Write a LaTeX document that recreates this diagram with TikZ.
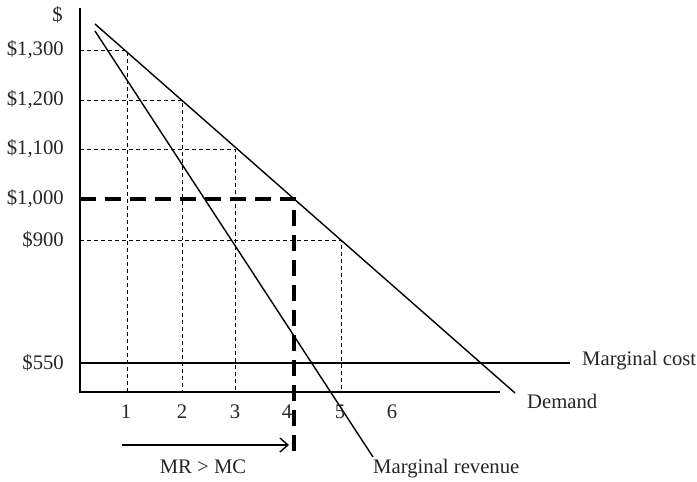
\documentclass[tikz,border=0pt]{standalone}
\usepackage{fontspec}
\setmainfont{Liberation Serif}
\usetikzlibrary{arrows.meta}
\begin{document}
\begin{tikzpicture}[x=1pt,y=-1pt,
  lbl/.style={inner sep=0pt,font=\fontsize{20.7}{24}\selectfont,text=black!85},
  curve/.style={line width=1.4pt},
  axisline/.style={line width=2pt},
  guide/.style={line width=0.9pt,dash pattern=on 4pt off 3pt},
  optimum/.style={line width=3.4pt,dash pattern=on 16pt off 9pt}]
\useasboundingbox (0,0) rectangle (697,482);
% axes
\coordinate (ytop) at (80,8);
\coordinate (orig) at (80,392);
\coordinate (xend) at (500,392);
\draw[axisline] (ytop) -- (orig) -- (xend);
% marginal cost
\coordinate (mc0) at (80,363);
\coordinate (mc1) at (570,363);
\draw[curve] (mc0) -- (mc1);
% demand and marginal revenue
\coordinate (d0) at (95,24);
\coordinate (d1) at (515,393);
\coordinate (mr0) at (95,31);
\coordinate (mr1) at (373,457);
\draw[curve] (d0) -- (d1);
\draw[curve] (mr0) -- (mr1);
% guide lines to the demand curve
\coordinate (p1) at (127,50);
\coordinate (p2) at (182,100);
\coordinate (p3) at (235,149);
\coordinate (p5) at (341,240);
\draw[guide] (80,50) -- (p1) -- (127,392);
\draw[guide] (80,100) -- (p2) -- (182,392);
\draw[guide] (80,149) -- (p3) -- (235,392);
\draw[guide] (80,240) -- (p5) -- (341,392);
% profit-maximising point
\coordinate (p4) at (294,199);
\coordinate (p4y) at (80,199);
\coordinate (p4b) at (294,452);
\draw[optimum] (p4y) -- (p4) -- (p4b);
% y labels
\node[lbl,anchor=east] (yd) at (63,15) {\$};
\node[lbl,anchor=east] (y13) at (64,50) {\$1,300};
\node[lbl,anchor=east] (y12) at (64,100) {\$1,200};
\node[lbl,anchor=east] (y11) at (64,149) {\$1,100};
\node[lbl,anchor=east] (y10) at (64,199) {\$1,000};
\node[lbl,anchor=east] (y9) at (64,240) {\$900};
\node[lbl,anchor=east] (y55) at (64,363) {\$550};
% x labels
\node[lbl] (x1) at (126,412) {1};
\node[lbl] (x2) at (182,412) {2};
\node[lbl] (x3) at (235,412) {3};
\node[lbl] (x4) at (287,412) {4};
\node[lbl] (x5) at (340,412) {5};
\node[lbl] (x6) at (392,412) {6};
% arrow
\coordinate (a0) at (122,445);
\coordinate (a1) at (289,445);
\draw[curve,-{Straight Barb[length=8pt,width=14pt,line width=1.4pt]}] (a0) -- (a1);
\node[lbl] (mrmc) at (203,467) {MR > MC};
% curve labels
\node[lbl,anchor=west] (mclab) at (582,361) {Marginal cost};
\node[lbl,anchor=west] (dlab) at (527,401) {Demand};
\node[lbl,anchor=west] (mrlab) at (373,469) {Marginal revenue};
\end{tikzpicture}
\end{document}
